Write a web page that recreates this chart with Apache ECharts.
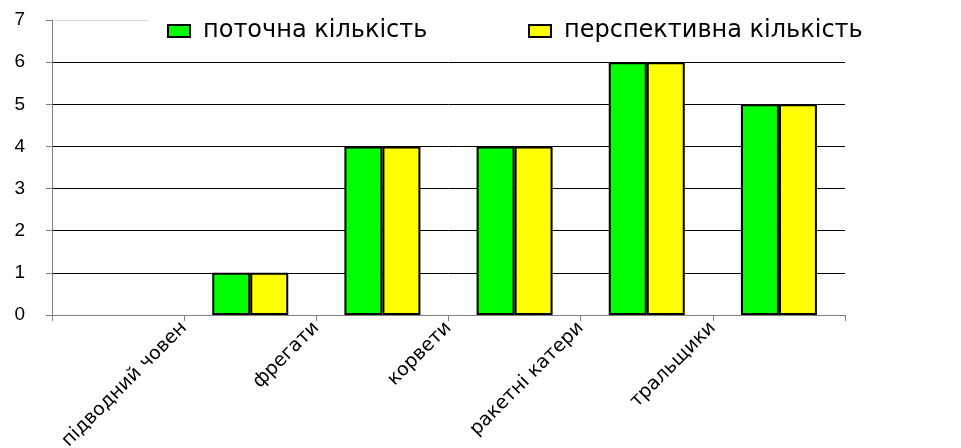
<!DOCTYPE html>
<html>
<head>
<meta charset="utf-8">
<script src="https://cdn.jsdelivr.net/npm/echarts@6/dist/echarts.min.js"></script>
<style>
  html, body { margin: 0; padding: 0; background: #fff; }
  #chart { width: 961px; height: 448px; }
</style>
</head>
<body>
<div id="chart"></div>
<script>
// типи кораблів (перша позиція порожня)
const categories = ['', 'підводний човен', 'фрегати', 'корвети', 'ракетні катери', 'тральщики']
const current = [null, 1, 4, 4, 6, 5]
const planned = [null, 1, 4, 4, 6, 5]
const seriesNames = ['поточна кількість', 'перспективна кількість']
const yTicks = [0, 1, 2, 3, 4, 5, 6, 7]
// підписи стоять на лівій межі своєї категорії
const tickLabels = [...categories, '']

const font = 'Liberation Sans, Arial, sans-serif'
const wideFont = 'DejaVu Sans, Verdana, sans-serif'
const gridColors = yTicks.map((v, i) => (i === yTicks.length - 1 ? '#d9d9d9' : '#000'))

const chart = echarts.init(document.getElementById('chart'))

const legendBase = {
  top: 13,
  itemWidth: 22,
  itemHeight: 12,
  icon: 'rect',
  backgroundColor: '#fff',
  textStyle: { fontFamily: wideFont, fontSize: 24, color: '#000', padding: [0, 0, 0, 8] },
  itemStyle: { borderColor: '#000', borderWidth: 2 }
}

chart.setOption({
  animation: false,
  legend: [
    { ...legendBase, left: 148, padding: [6, 120, 6, 19], data: [seriesNames[0]] },
    { ...legendBase, left: 528, padding: [6, 80, 6, 0], data: [seriesNames[1]] }
  ],
  grid: { left: 52, right: 116, top: 20, bottom: 133, outerBoundsMode: 'none' },
  xAxis: [
    {
      type: 'category',
      data: categories,
      axisLine: { show: true, lineStyle: { color: '#808080', width: 1 } },
      axisTick: { show: true, length: 6, lineStyle: { color: '#808080' } },
      axisLabel: { show: false },
      splitLine: { show: false }
    },
    {
      type: 'category',
      data: tickLabels,
      boundaryGap: false,
      position: 'bottom',
      axisLine: { show: false },
      axisTick: { show: false },
      splitLine: { show: false },
      axisLabel: {
        interval: 0,
        rotate: 45,
        margin: 10,
        fontFamily: wideFont,
        fontSize: 19,
        color: '#000'
      }
    }
  ],
  yAxis: {
    type: 'value',
    min: 0,
    max: 7,
    interval: 1,
    axisLine: { show: true, lineStyle: { color: '#808080', width: 1 } },
    axisTick: { show: true, length: 6, lineStyle: { color: '#808080' } },
    axisLabel: { margin: 27, fontFamily: font, fontSize: 19, color: '#000' },
    splitLine: { show: true, lineStyle: { color: gridColors, width: 1 } }
  },
  series: [
    {
      name: seriesNames[0],
      type: 'bar',
      xAxisIndex: 0,
      data: current,
      barWidth: 38,
      barGap: '0%',
      itemStyle: { color: '#00ff00', borderColor: '#000', borderWidth: 2 }
    },
    {
      name: seriesNames[1],
      type: 'bar',
      xAxisIndex: 0,
      data: planned,
      barWidth: 38,
      barGap: '0%',
      itemStyle: { color: '#ffff00', borderColor: '#000', borderWidth: 2 }
    }
  ]
})
</script>
</body>
</html>
